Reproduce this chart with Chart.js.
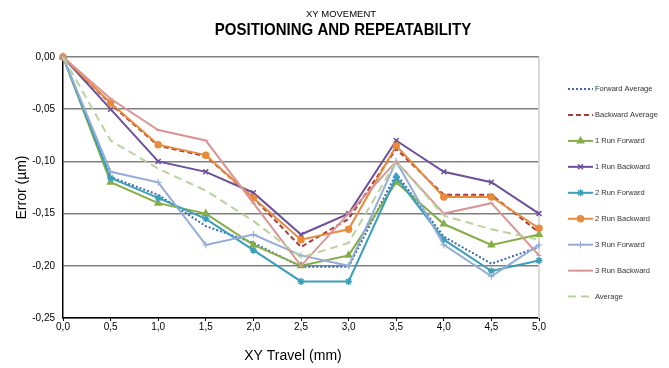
<!DOCTYPE html>
<html>
<head>
<meta charset="utf-8">
<script src="https://cdn.jsdelivr.net/npm/chart.js@4/dist/chart.umd.min.js"></script>
<style>
  html, body { margin: 0; padding: 0; background: #fff; }
  #wrap { width: 669px; height: 368px; position: relative; }
</style>
</head>
<body>
<div id="wrap"><canvas id="c" width="669" height="368"></canvas></div>
<script>
const xLabels = ["0,0","0,5","1,0","1,5","2,0","2,5","3,0","3,5","4,0","4,5","5,0"];
const forwardAverage  = [0,-0.115,-0.132,-0.162,-0.178,-0.201,-0.201,-0.112,-0.172,-0.198,-0.182];
const backwardAverage = [0,-0.045,-0.085,-0.095,-0.135,-0.182,-0.155,-0.088,-0.132,-0.132,-0.168];
const run1Forward  = [0,-0.120,-0.140,-0.150,-0.180,-0.200,-0.190,-0.120,-0.160,-0.180,-0.170];
const run1Backward = [0,-0.050,-0.100,-0.110,-0.130,-0.170,-0.150,-0.080,-0.110,-0.120,-0.150];
const run2Forward  = [0,-0.116,-0.135,-0.155,-0.185,-0.215,-0.215,-0.115,-0.175,-0.205,-0.195];
const run2Backward = [0,-0.044,-0.084,-0.094,-0.135,-0.175,-0.165,-0.085,-0.134,-0.134,-0.164];
const run3Forward  = [0,-0.110,-0.120,-0.180,-0.170,-0.190,-0.200,-0.100,-0.180,-0.210,-0.180];
const run3Backward = [0,-0.040,-0.070,-0.080,-0.140,-0.200,-0.150,-0.100,-0.150,-0.140,-0.190];
const average       = [0,-0.080,-0.107,-0.128,-0.157,-0.192,-0.178,-0.100,-0.152,-0.165,-0.175];

const chartTitle = "XY MOVEMENT";
const chartSubtitle = "POSITIONING AND REPEATABILITY";
const xTitle = "XY Travel (mm)";
const yTitle = "Error (µm)";

const FONT = '"Liberation Sans", Arial, sans-serif';

function ds(label, data, color, opts) {
  return Object.assign({
    label: label, data: data,
    borderColor: color, backgroundColor: color,
    pointBackgroundColor: color, pointBorderColor: color,
    borderWidth: 2, tension: 0, clip: false,
    pointRadius: 0, pointBorderWidth: 1.5, pointStyle: 'circle',
    fill: false
  }, opts || {});
}

const datasets = [
  ds("Forward Average", forwardAverage, "#3b68b0", { borderDash: [2, 2] }),
  ds("Backward Average", backwardAverage, "#a83a3a", { borderDash: [5, 3] }),
  ds("1 Run Forward", run1Forward, "#86ad46", { pointStyle: 'triangle', pointRadius: 3.5 }),
  ds("1 Run Backward", run1Backward, "#6d4f9b", { pointStyle: 'crossRot', pointRadius: 3.5 }),
  ds("2 Run Forward", run2Forward, "#3a9fb8", { pointStyle: 'star', pointRadius: 3.5 }),
  ds("2 Run Backward", run2Backward, "#e98a3c", { pointStyle: 'circle', pointRadius: 3 }),
  ds("3 Run Forward", run3Forward, "#93acd8", { pointStyle: 'cross', pointRadius: 3.5, pointBorderWidth: 1 }),
  ds("3 Run Backward", run3Backward, "#d99594", { pointStyle: 'line', pointRadius: 2.5, pointBorderWidth: 1 }),
  ds("Average", average, "#b8d39c", { borderDash: [8, 5] })
];
datasets.forEach((d, i) => { d.order = datasets.length - i; });

const decorPlugin = {
  id: 'decor',
  beforeDatasetsDraw(chart) {
    const { ctx, chartArea: a } = chart;
    ctx.save();
    ctx.strokeStyle = '#d9d9d9';
    ctx.lineWidth = 2;
    ctx.beginPath();
    ctx.moveTo(a.right, a.top);
    ctx.lineTo(a.right, a.bottom);
    ctx.stroke();
    ctx.restore();
  },
  afterDraw(chart) {
    const { ctx } = chart;
    ctx.save();
    ctx.fillStyle = '#000';
    ctx.textAlign = 'center';
    ctx.textBaseline = 'middle';
    ctx.font = '9.5px ' + FONT;
    ctx.fillText(chartTitle, 341, 14.5);
    ctx.save();
    ctx.translate(343, 30.5);
    ctx.scale(0.91, 1);
    ctx.font = 'bold 16.5px ' + FONT;
    ctx.fillText(chartSubtitle, 0, 0);
    ctx.restore();
    ctx.font = '14px ' + FONT;
    ctx.fillText(xTitle, 293, 356);

    // legend
    const x0 = 568, x1 = 593, yStart = 89, step = 25.95;
    chart.data.datasets.forEach((d, i) => {
      const y = yStart + i * step;
      ctx.save();
      ctx.strokeStyle = d.borderColor;
      ctx.lineWidth = d.borderWidth;
      ctx.setLineDash(d.borderDash || []);
      ctx.beginPath();
      ctx.moveTo(x0, y);
      ctx.lineTo(x1, y);
      ctx.stroke();
      ctx.setLineDash([]);
      if (d.pointRadius > 0) {
        ctx.fillStyle = d.pointBackgroundColor;
        ctx.strokeStyle = d.pointBorderColor;
        ctx.lineWidth = d.pointBorderWidth;
        Chart.helpers.drawPoint(ctx, { pointStyle: d.pointStyle, radius: d.pointRadius, rotation: 0, borderWidth: d.pointBorderWidth }, (x0 + x1) / 2, y);
      }
      ctx.restore();
      ctx.fillStyle = '#333';
      ctx.textAlign = 'left';
      ctx.textBaseline = 'middle';
      ctx.font = '7.5px ' + FONT;
      ctx.fillText(d.label, 595, y);
    });
    ctx.restore();
  }
};

new Chart(document.getElementById('c'), {
  type: 'line',
  data: { labels: xLabels, datasets: datasets },
  plugins: [decorPlugin],
  options: {
    responsive: false,
    animation: false,
    devicePixelRatio: 1,
    layout: { padding: { left: 0, right: 130, top: 57, bottom: 0 } },
    plugins: { legend: { display: false }, tooltip: { enabled: false }, title: { display: false } },
    scales: {
      x: {
        type: 'category',
        offset: false,
        grid: { display: true, drawOnChartArea: false, drawTicks: true, tickLength: 3, color: '#000', offset: false },
        border: { display: true, color: '#000', width: 1.5 },
        ticks: { color: '#000', font: { family: FONT, size: 10 }, padding: 0, maxRotation: 0, autoSkip: false },
        afterFit(scale) { scale.height = 50; }
      },
      y: {
        min: -0.25, max: 0,
        grid: { color: '#7f7f7f', lineWidth: 1.5, drawTicks: false },
        border: { display: true, color: '#000', width: 1.5 },
        ticks: {
          stepSize: 0.05, color: '#000', padding: 8,
          font: { family: FONT, size: 10 },
          callback: (v) => (Math.abs(v) < 1e-9 ? 0 : v).toFixed(2).replace('.', ',')
        },
        title: { display: true, text: yTitle, color: '#000', font: { family: FONT, size: 14 }, padding: { top: 14, bottom: 0 } },
        afterFit(scale) { scale.width = 63; }
      }
    }
  }
});
</script>
</body>
</html>
